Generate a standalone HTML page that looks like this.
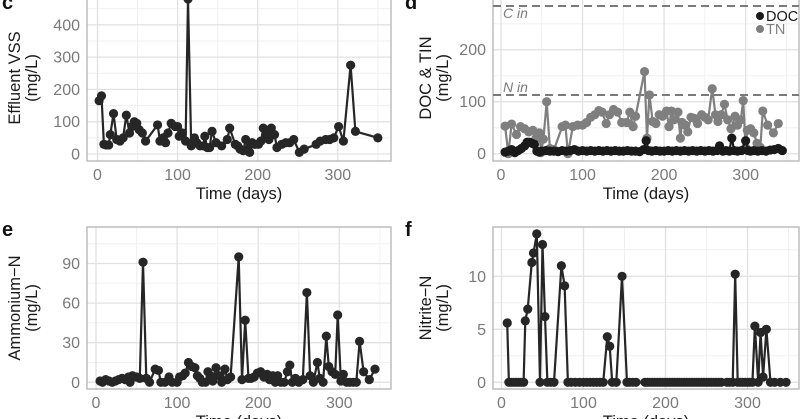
<!DOCTYPE html>
<html><head><meta charset="utf-8"><style>
body{margin:0;background:#fff}
svg{display:block;font-family:"Liberation Sans",sans-serif}
</style></head><body>
<svg id="fig" width="800" height="419" viewBox="0 0 800 419" xmlns="http://www.w3.org/2000/svg"></svg>
<script>
// ---- Panel c: Effluent VSS ----
const vssDays=[2,5,8,11,14,16,20,24,28,32,36,40,43,46,49,52,56,60,75,78,82,85,88,92,97,100,102,106,110,113,117,121,124,128,132,134,137,140,143,148,155,162,165,172,175,178,182,185,188,190,193,197,201,204,207,211,214,217,221,224,230,235,240,245,252,258,273,278,285,290,295,301,307,316,322,350];
const vssVals=[165,180,30,28,28,60,125,45,40,50,120,65,85,100,95,75,65,40,90,40,50,35,65,95,85,85,55,65,40,480,25,50,35,25,25,55,20,20,70,35,25,45,80,30,25,15,10,45,15,5,35,30,30,40,80,60,45,80,60,20,30,35,35,45,5,15,30,40,45,45,50,85,40,275,70,50];
// ---- Panel d: DOC & TN ----
const tnDays=[5,9,13,19,24,29,34,39,43,47,49,52,56,60,65,75,79,82,88,94,100,105,110,115,120,124,129,133,138,143,148,154,158,162,165,176,179,182,186,190,194,198,203,206,209,212,217,220,222,226,229,233,237,241,246,250,254,259,263,266,270,274,278,282,287,290,294,297,300,302,306,310,314,318,321,327,334,340];
const tnVals=[53,0,57,37,52,48,42,45,30,40,2,28,100,10,8,52,55,0,52,55,55,60,70,75,83,80,58,75,85,80,60,60,80,52,72,158,30,113,62,58,75,72,82,52,82,65,80,30,60,55,42,70,68,58,75,70,65,125,75,62,75,95,65,48,72,55,65,102,12,45,48,40,20,12,82,55,40,58];
const docDays=[5,9,13,17,21,25,29,32,35,38,41,44,47,50,55,60,65,70,75,80,85,90,95,100,105,110,115,120,125,130,135,140,145,150,155,160,165,170,175,178,181,185,190,195,200,205,210,215,220,225,230,235,240,245,250,255,260,265,268,272,276,280,283,286,290,295,300,303,306,310,315,320,325,330,335,340,345];
const docVals=[3,5,8,2,6,10,15,22,22,20,18,5,3,5,6,5,5,4,6,5,6,8,5,6,5,6,5,6,5,6,5,6,5,5,6,5,5,4,8,25,6,5,6,5,5,6,5,6,5,6,5,6,5,6,5,6,5,6,15,5,6,5,30,6,5,6,25,6,5,6,5,6,5,7,8,10,6];
// ---- Panel e: Ammonium-N ----
const nhDays=[5,8,12,16,20,24,28,32,36,40,42,45,50,54,58,62,66,73,77,80,85,90,94,100,103,107,110,114,118,122,125,128,131,135,138,141,144,148,152,155,159,162,166,176,180,184,188,191,195,199,203,207,211,214,218,221,224,228,232,236,239,242,246,250,255,260,264,268,273,276,280,284,287,291,295,298,302,305,309,313,317,321,325,330,337,344];
const nhVals=[1,0,2,1,0,1,2,3,2,4,0,5,4,3,91,3,0,10,9,0,0,4,0,0,4,5,7,15,12,11,5,3,0,0,8,5,1,11,5,0,10,2,4,95,2,47,3,3,4,7,8,4,6,2,5,0,5,0,0,8,13,0,3,0,2,68,5,0,15,3,0,35,12,8,6,51,1,6,0,0,0,0,31,8,2,10];
// ---- Panel f: Nitrite-N ----
const no2Days=[7,9,12,15,18,21,24,27,29,32,37,39,43,47,50,53,56,60,64,73,77,81,85,90,95,100,104,108,112,116,120,124,129,132,135,140,147,153,156,160,164,175,178,181,184,187,190,193,196,199,202,205,208,211,214,217,220,223,226,229,232,235,238,241,244,247,250,253,256,259,262,265,268,275,278,282,285,288,291,294,297,300,303,306,309,313,316,319,323,328,333,340,347];
const no2Vals=[5.6,0,0,0,0,0,0,0,5.8,6.9,11.3,12.2,14,0,13,6.2,0,0,0,11,9.1,0,0,0,0,0,0,0,0,0,0,0,4.3,3.4,0,0,10,0,0,0,0,0,0,0,0,0,0,0,0,0,0,0,0,0,0,0,0,0,0,0,0,0,0,0,0,0,0,0,0,0,0,0,0,0,0,0,10.2,0,0,0,0,0,0,0,5.3,0,4.7,0.5,5,0,0,0,0];

const svg=document.getElementById('fig');
const NS='http://www.w3.org/2000/svg';
function mk(tag,attrs,parent,text){const e=document.createElementNS(NS,tag);for(const k in attrs)e.setAttribute(k,attrs[k]);if(text!==undefined)e.textContent=text;(parent||svg).appendChild(e);return e;}

function panel(cfg){
  const g=mk('g',{});
  
  
  const X=d=>cfg.x0+cfg.xs*d, Y=v=>cfg.y0-cfg.ys*v;
  mk('rect',{x:cfg.bx0,y:cfg.by0,width:cfg.bx1-cfg.bx0,height:cfg.by1-cfg.by0,fill:'#fff'},g);
  cfg.yminor.forEach(v=>mk('line',{x1:cfg.bx0,x2:cfg.bx1,y1:Y(v),y2:Y(v),stroke:'#f0f0f0','stroke-width':1},g));
  [50,150,250,350].forEach(d=>{if(X(d)<cfg.bx1)mk('line',{x1:X(d),x2:X(d),y1:cfg.by0,y2:cfg.by1,stroke:'#f0f0f0','stroke-width':1},g);});
  cfg.yticks.forEach(v=>mk('line',{x1:cfg.bx0,x2:cfg.bx1,y1:Y(v),y2:Y(v),stroke:'#e2e2e2','stroke-width':1.3},g));
  [0,100,200,300].forEach(d=>mk('line',{x1:X(d),x2:X(d),y1:cfg.by0,y2:cfg.by1,stroke:'#e2e2e2','stroke-width':1.3},g));
  mk('rect',{x:cfg.bx0,y:cfg.by0,width:cfg.bx1-cfg.bx0,height:cfg.by1-cfg.by0,fill:'none',stroke:'#b8b8b8','stroke-width':1.4},g);
  cfg.yticks.forEach(v=>{const t=mk('text',{x:cfg.bx0-7,y:Y(v)+5.5,'text-anchor':'end','font-size':16,fill:'#7a7a7a'},g,String(v));});
  [0,100,200,300].forEach(d=>{const t=mk('text',{x:X(d),y:cfg.by1+19,'text-anchor':'middle','font-size':16,fill:'#7a7a7a'},g,String(d));});
  const xt=mk('text',{x:(cfg.bx0+cfg.bx1)/2,y:cfg.by1+38,'text-anchor':'middle','font-size':16.5,fill:'#1a1a1a'},g,'Time (days)');
  
  const yc=(cfg.by0+cfg.by1)/2;
  const yt=mk('text',{transform:`translate(${cfg.ytx},${yc}) rotate(-90)`,'text-anchor':'middle','font-size':16.5,fill:'#1a1a1a'},g);
  
  mk('tspan',{x:0,y:0},yt,cfg.ytitle);
  mk('tspan',{x:0,y:17},yt,'(mg/L)');
  const lt=mk('text',{x:cfg.lx,y:cfg.ly,'font-size':20,'font-weight':'bold',fill:'#111'},g,cfg.letter);
  
  if(cfg.extra)cfg.extra(g,X,Y);
  cfg.series.forEach(s=>{
    const pts=s.d.map((d,i)=>X(d).toFixed(1)+','+Y(s.v[i]).toFixed(1)).join(' ');
    const pl=mk('polyline',{points:pts,fill:'none',stroke:s.c,'stroke-width':2.2,'stroke-linejoin':'round'},g);
    
    s.d.forEach((d,i)=>{const c=mk('circle',{cx:X(d),cy:Y(s.v[i]),r:4.6,fill:s.c},g);
      });
  });
}

panel({name:'panel-c-vss',x0:97.5,xs:0.801,y0:154,ys:0.323,bx0:87,bx1:391,by0:-5,by1:161,
  yticks:[0,100,200,300,400],yminor:[50,150,250,350,450],ytitle:'Effluent VSS',ytx:20,letter:'c',lx:2,ly:9,
  series:[{d:vssDays,v:vssVals,c:'#262626',n:'vss'}]});

panel({name:'panel-d-doc-tn',x0:501,xs:0.8155,y0:153.7,ys:0.52,bx0:493,bx1:799,by0:-5,by1:161,
  yticks:[0,100,200],yminor:[50,150,250],ytitle:'DOC & TIN',ytx:431,letter:'d',lx:405,ly:9,
  extra:(g,X,Y)=>{
    [[284,'C in'],[113,'N in']].forEach(([v,lab])=>{
      const l=mk('line',{x1:493,x2:799,y1:Y(v),y2:Y(v),stroke:'#7a7a7a','stroke-width':2,'stroke-dasharray':'8,5'},g);
      
      mk('text',{x:503,y:Y(v)+(v>200?12:-3),'font-size':14,'font-style':'italic',fill:'#7a7a7a'},g,lab);
    });
    const lg=mk('g',{},g);
    mk('circle',{cx:760,cy:16,r:4,fill:'#1a1a1a'},lg);
    mk('text',{x:766,y:21,'font-size':14.5,fill:'#1a1a1a'},lg,'DOC');
    mk('circle',{cx:760,cy:29,r:4,fill:'#7f7f7f'},lg);
    mk('text',{x:766,y:34,'font-size':14.5,fill:'#7f7f7f'},lg,'TN');
  },
  series:[{d:tnDays,v:tnVals,c:'#7f7f7f',n:'tn'},{d:docDays,v:docVals,c:'#1a1a1a',n:'doc'}]});

panel({name:'panel-e-ammonium',x0:96,xs:0.811,y0:382.3,ys:1.32,bx0:87,bx1:391,by0:227,by1:389,
  yticks:[0,30,60,90],yminor:[15,45,75,105],ytitle:'Ammonium\u2212N',ytx:20,letter:'e',lx:2,ly:236,
  series:[{d:nhDays,v:nhVals,c:'#262626',n:'ammonium'}]});

panel({name:'panel-f-nitrite',x0:501.5,xs:0.82,y0:382.3,ys:10.6,bx0:493,bx1:799,by0:227,by1:389,
  yticks:[0,5,10],yminor:[2.5,7.5,12.5],ytitle:'Nitrite\u2212N',ytx:431,letter:'f',lx:405,ly:236,
  series:[{d:no2Days,v:no2Vals,c:'#262626',n:'nitrite'}]});
</script>
</body></html>
